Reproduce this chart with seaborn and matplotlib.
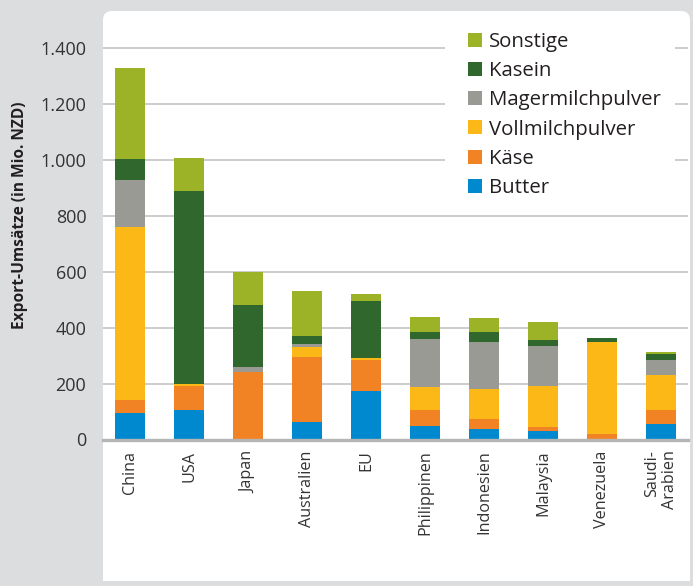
import numpy as np
import pandas as pd
import matplotlib
matplotlib.use("Agg")
import matplotlib.pyplot as plt
import seaborn as sns
from matplotlib.patches import FancyBboxPatch, Rectangle, Patch
from matplotlib.ticker import FuncFormatter

countries = ["China", "USA", "Japan", "Australien", "EU", "Philippinen",
             "Indonesien", "Malaysia", "Venezuela", "Saudi-\nArabien"]
butter     = [93, 107, 0, 61, 175, 50, 39, 32, 0, 54]
kaese      = [50, 86, 243, 235, 111, 57, 36, 14, 20, 53]
vollmilch  = [618, 7, 0, 33, 7, 82, 107, 147, 330, 122]
magermilch = [168, 0, 18, 14, 0, 172, 168, 143, 0, 57]
kasein     = [75, 689, 221, 28, 203, 25, 36, 21, 14, 18]
sonstige   = [325, 118, 118, 161, 25, 53, 50, 64, 0, 10]
yticks = [0, 200, 400, 600, 800, 1000, 1200, 1400]

series = ["Butter", "Käse", "Vollmilchpulver", "Magermilchpulver", "Kasein", "Sonstige"]
values = [butter, kaese, vollmilch, magermilch, kasein, sonstige]
colors = ["#0089cf", "#f28325", "#fbb817", "#9a9a94", "#2f672c", "#9cb227"]

BG = "#dcdddf"
W, H = 693, 586

sns.set_theme(style="white")
plt.rcParams['font.family'] = ['Open Sans', 'DejaVu Sans']

fig = plt.figure(figsize=(W / 100, H / 100), dpi=100, facecolor=BG)

# white panel (rounded top corners)
px0, py0, px1, py1 = 103, 11, 690, 581  # pixel, from top
panel = FancyBboxPatch((px0, H - py1), px1 - px0, py1 - py0,
                       boxstyle="round,pad=0,rounding_size=9",
                       transform=None, facecolor="white", edgecolor="none", zorder=0)
fig.add_artist(panel)
fig.add_artist(Rectangle((px0, H - py1), px1 - px0, 60, transform=None,
                         facecolor="white", edgecolor="none", zorder=0))

base = 439.5
ppu = (base - 48) / 1400.0
ax = fig.add_axes([px0 / W, (H - base) / H, (688 - px0) / W, (base - py0) / H])
ax.patch.set_alpha(0)
ax.set_zorder(1)

cum = np.zeros(len(countries))
cums = []
for s, v in zip(series, values):
    cum = cum + np.array(v, dtype=float)
    cums.append(cum.copy())

for s, c, cv in reversed(list(zip(series, colors, cums))):
    d = pd.DataFrame({"Land": countries, "Wert": cv})
    sns.barplot(data=d, x="Land", y="Wert", order=countries, color=c,
                saturation=1, width=0.51, linewidth=0, ax=ax, zorder=3, errorbar=None)

ax.set_xlim(-0.46, 9.46)
ax.set_ylim(0, (base - py0) / ppu)
ax.set_yticks(yticks)
ax.yaxis.set_major_formatter(FuncFormatter(lambda v, p: f"{int(v):,}".replace(",", ".")))
ax.grid(axis="y", color="#c4c4c4", linewidth=1.2, zorder=0)
ax.set_axisbelow(True)
for sp in ["left", "right", "top"]:
    ax.spines[sp].set_visible(False)
ax.spines["bottom"].set_color("#b5b5b5")
ax.spines["bottom"].set_linewidth(2.4)
ax.spines["bottom"].set_zorder(5)
ax.tick_params(axis="y", length=0, pad=12, labelsize=13, labelcolor="#333333")
ax.tick_params(axis="x", length=0, pad=8, labelsize=11.6, labelcolor="#333333")
for lab in ax.get_xticklabels():
    lab.set_rotation(90)
    lab.set_va("top")
    lab.set_ha("center")
    lab.set_multialignment("right")
ax.set_xlabel("")
ax.set_ylabel("")

fig.text(20 / W, (H - 215) / H, "Export-Umsätze (in Mio. NZD)", rotation=90,
         ha="center", va="center", fontsize=11.2, fontweight="bold", color="#231f20")

# white area behind legend, covering grid
ax.add_patch(Rectangle((445, H - 200), 230, 175, transform=None,
                       facecolor="white", edgecolor="none", zorder=1))

handles = [Patch(facecolor=c, edgecolor="none") for c in reversed(colors)]
leg = ax.legend(handles, list(reversed(series)), loc="upper left",
                bbox_to_anchor=(468 / W, (H - 32) / H), bbox_transform=fig.transFigure,
                frameon=False, fontsize=14.7, handlelength=0.68, handleheight=0.68,
                handletextpad=0.35, labelspacing=0.45, borderpad=0, borderaxespad=0)
for t in leg.get_texts():
    t.set_color("#231f20")

fig.savefig("out.png", dpi=100, facecolor=BG)
